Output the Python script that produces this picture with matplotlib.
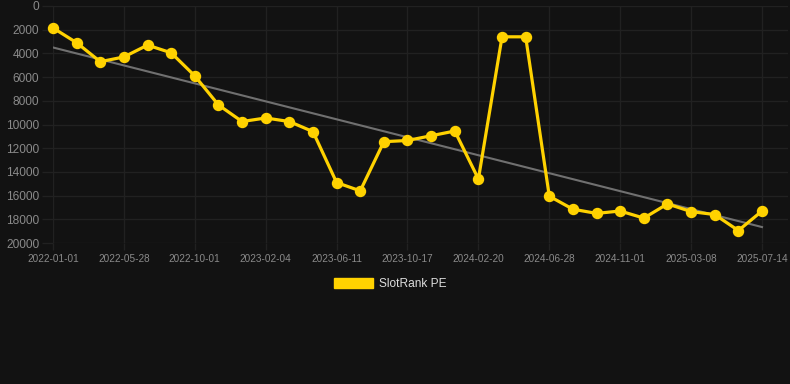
import numpy as np
import matplotlib.pyplot as plt
from matplotlib.patches import Patch

dates = ['2022-01-01', '', '', '2022-05-28', '', '', '2022-10-01', '', '',
         '2023-02-04', '', '', '2023-06-11', '', '', '2023-10-17', '', '',
         '2024-02-20', '', '', '2024-06-28', '', '', '2024-11-01', '', '',
         '2025-03-08', '', '', '2025-07-14']
rank = [1850, 3100, 4700, 4300, 3300, 3950, 5900, 8350, 9750, 9450, 9750,
        10600, 14900, 15600, 11450, 11350, 10950, 10550, 14600, 2600, 2600,
        16050, 17150, 17500, 17300, 17900, 16700, 17350, 17600, 18950, 17300]
label = 'SlotRank PE'

bg = '#121212'
yellow = '#FFD200'
grid = '#212121'
tick_col = '#8a8a8a'

fig = plt.figure(figsize=(7.9, 3.84), dpi=100, facecolor=bg)
ax = fig.add_axes([53 / 790, 1 - 243 / 384, (788 - 53) / 790, 237 / 384])
ax.set_facecolor(bg)

x = np.arange(len(rank))
# trend line (least squares)
k, b = np.polyfit(x, rank, 1)
ax.plot(x, k * x + b, color='#707070', lw=1.5, zorder=2)
ax.plot(x, rank, color=yellow, lw=2.3, marker='o', ms=7.2, zorder=3,
        clip_on=False)

ax.set_xlim(0, 30 + 26 / 23.63)
ax.set_ylim(20000, 0)
ax.set_yticks(range(0, 20001, 2000))
ticks = [i for i, d in enumerate(dates) if d]
ax.set_xticks(ticks)
ax.set_xticklabels([dates[i] for i in ticks])
ax.grid(True, color=grid, lw=1)
for s in ax.spines.values():
    s.set_visible(False)
ax.tick_params(axis='y', colors=grid, length=8, width=1, labelcolor=tick_col,
               labelsize=8.6, pad=2)
ax.tick_params(axis='x', colors=grid, length=5, width=1, labelcolor=tick_col,
               labelsize=7.2, pad=3)
for t in ax.get_yticklabels() + ax.get_xticklabels():
    t.set_fontfamily('Liberation Sans')

leg = fig.legend(handles=[Patch(color=yellow, label=label)], loc='center',
                 bbox_to_anchor=(390 / 790, 1 - 284 / 384), frameon=False,
                 handlelength=3.3, handleheight=0.9, handletextpad=0.5,
                 prop={'family': 'Liberation Sans', 'size': 8.6})
for t in leg.get_texts():
    t.set_color('#dddddd')

fig.savefig('out.png', dpi=100, facecolor=bg)
